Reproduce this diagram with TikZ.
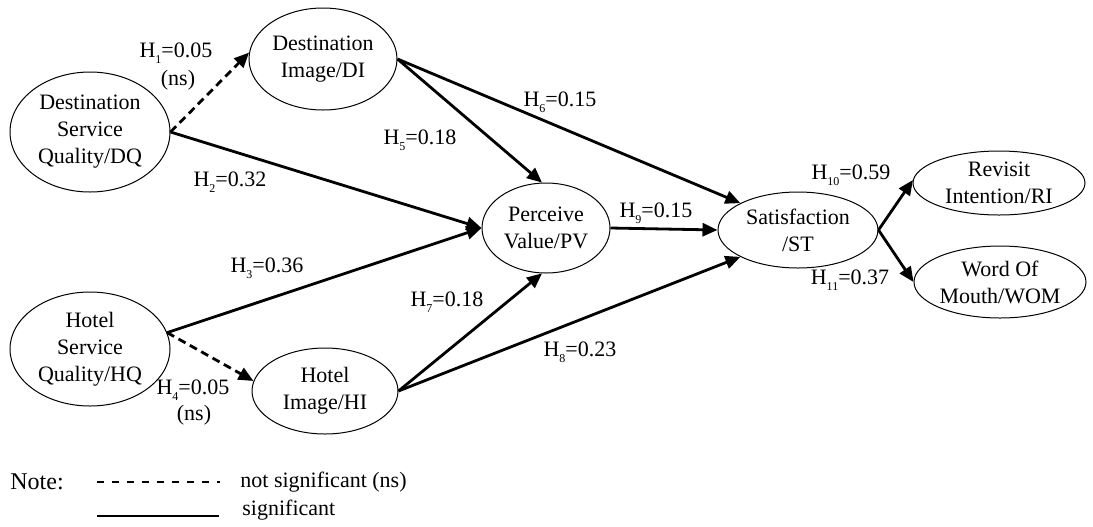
\documentclass[tikz,border=0pt]{standalone}
\usepackage{fontspec}
\setmainfont{Liberation Serif}
\usetikzlibrary{arrows.meta,shapes.geometric}

\tikzset{
  construct/.style={draw, ellipse, line width=0.5pt, inner sep=0pt, align=center,
    font=\fontsize{11}{13.5}\selectfont},
  path/.style={line width=1.4pt, -{Triangle[length=7.5pt,width=6.5pt]}},
  nspath/.style={path, dash pattern=on 4pt off 2.5pt},
  coef/.style={font=\fontsize{11}{13.5}\selectfont, inner sep=0pt}
}
\newcommand{\hlab}[2]{H\raisebox{-0.6ex}{\fontsize{6}{6}\selectfont #1}=#2}

\begin{document}
\begin{tikzpicture}[x=0.5pt, y=-0.5pt]
      \useasboundingbox (0,0) rectangle (1093,526);

      % constructs
      \node[construct, minimum width=80pt, minimum height=60pt] (DQ) at (90,132) {Destination\\Service\\Quality/DQ};
      \node[construct, minimum width=80pt, minimum height=57pt] (HQ) at (90,349) {Hotel\\Service\\Quality/HQ};
      \node[construct, minimum width=74pt, minimum height=51pt] (DI) at (323,59) {Destination\\Image/DI};
      \node[construct, minimum width=73pt, minimum height=43pt] (HI) at (325,391) {Hotel\\Image/HI};
      \node[construct, minimum width=64pt, minimum height=45pt] (PV) at (546,228) {Perceive\\Value/PV};
      \node[construct, minimum width=80pt, minimum height=38pt] (ST) at (798,230) {Satisfaction\\/ST};
      \node[construct, minimum width=86pt, minimum height=32pt] (RI) at (999,183) {Revisit\\Intention/RI};
      \node[construct, minimum width=86pt, minimum height=36pt] (WOM) at (1000,282) {Word Of\\Mouth/WOM};

      % paths
      \draw[nspath] (DQ.east) -- (DI.175);
      \draw[path] (DQ.east) -- (PV.west);
      \draw[path] (HQ.12) -- (PV.west);
      \draw[nspath] (HQ.12) -- (HI.172);
      \draw[path] (DI.east) -- (PV.95);
      \draw[path] (DI.east) -- (ST.155);
      \draw[path] (HI.east) -- (PV.265);
      \draw[path] (HI.east) -- (ST.205);
      \draw[path] (PV.east) -- (ST.west);
      \draw[path] (ST.east) -- (RI.178);
      \draw[path] (ST.east) -- (WOM.west);

      % coefficients
      \node[coef] (h1) at (176,53) {\hlab{1}{0.05}};
      \node[coef] (h1ns) at (178,80) {(ns)};
      \node[coef] (h2) at (230,182) {\hlab{2}{0.32}};
      \node[coef] (h3) at (267,268) {\hlab{3}{0.36}};
      \node[coef] (h4) at (193,390) {\hlab{4}{0.05}};
      \node[coef] (h4ns) at (194,415) {(ns)};
      \node[coef] (h5) at (420,140) {\hlab{5}{0.18}};
      \node[coef] (h6) at (560,102) {\hlab{6}{0.15}};
      \node[coef] (h7) at (447,302) {\hlab{7}{0.18}};
      \node[coef] (h8) at (580,352) {\hlab{8}{0.23}};
      \node[coef] (h9) at (656,213) {\hlab{9}{0.15}};
      \node[coef] (h10) at (851,175) {\hlab{10}{0.59}};
      \node[coef] (h11) at (850,280) {\hlab{11}{0.37}};

      % legend
      \node[coef, anchor=west, font=\fontsize{12}{14}\selectfont] (note) at (10,482) {Note:};
      \coordinate (ns1) at (97,482);
      \coordinate (ns2) at (220,482);
      \draw[line width=0.6pt, dash pattern=on 3.5pt off 4pt] (ns1) -- (ns2);
      \node[coef, anchor=west] (nstext) at (240,482) {not significant (ns)};
      \coordinate (s1) at (97,516);
      \coordinate (s2) at (219,516);
      \draw[line width=1.4pt] (s1) -- (s2);
      \node[coef, anchor=west] (stext) at (242,510) {significant};

\end{tikzpicture}
\end{document}
